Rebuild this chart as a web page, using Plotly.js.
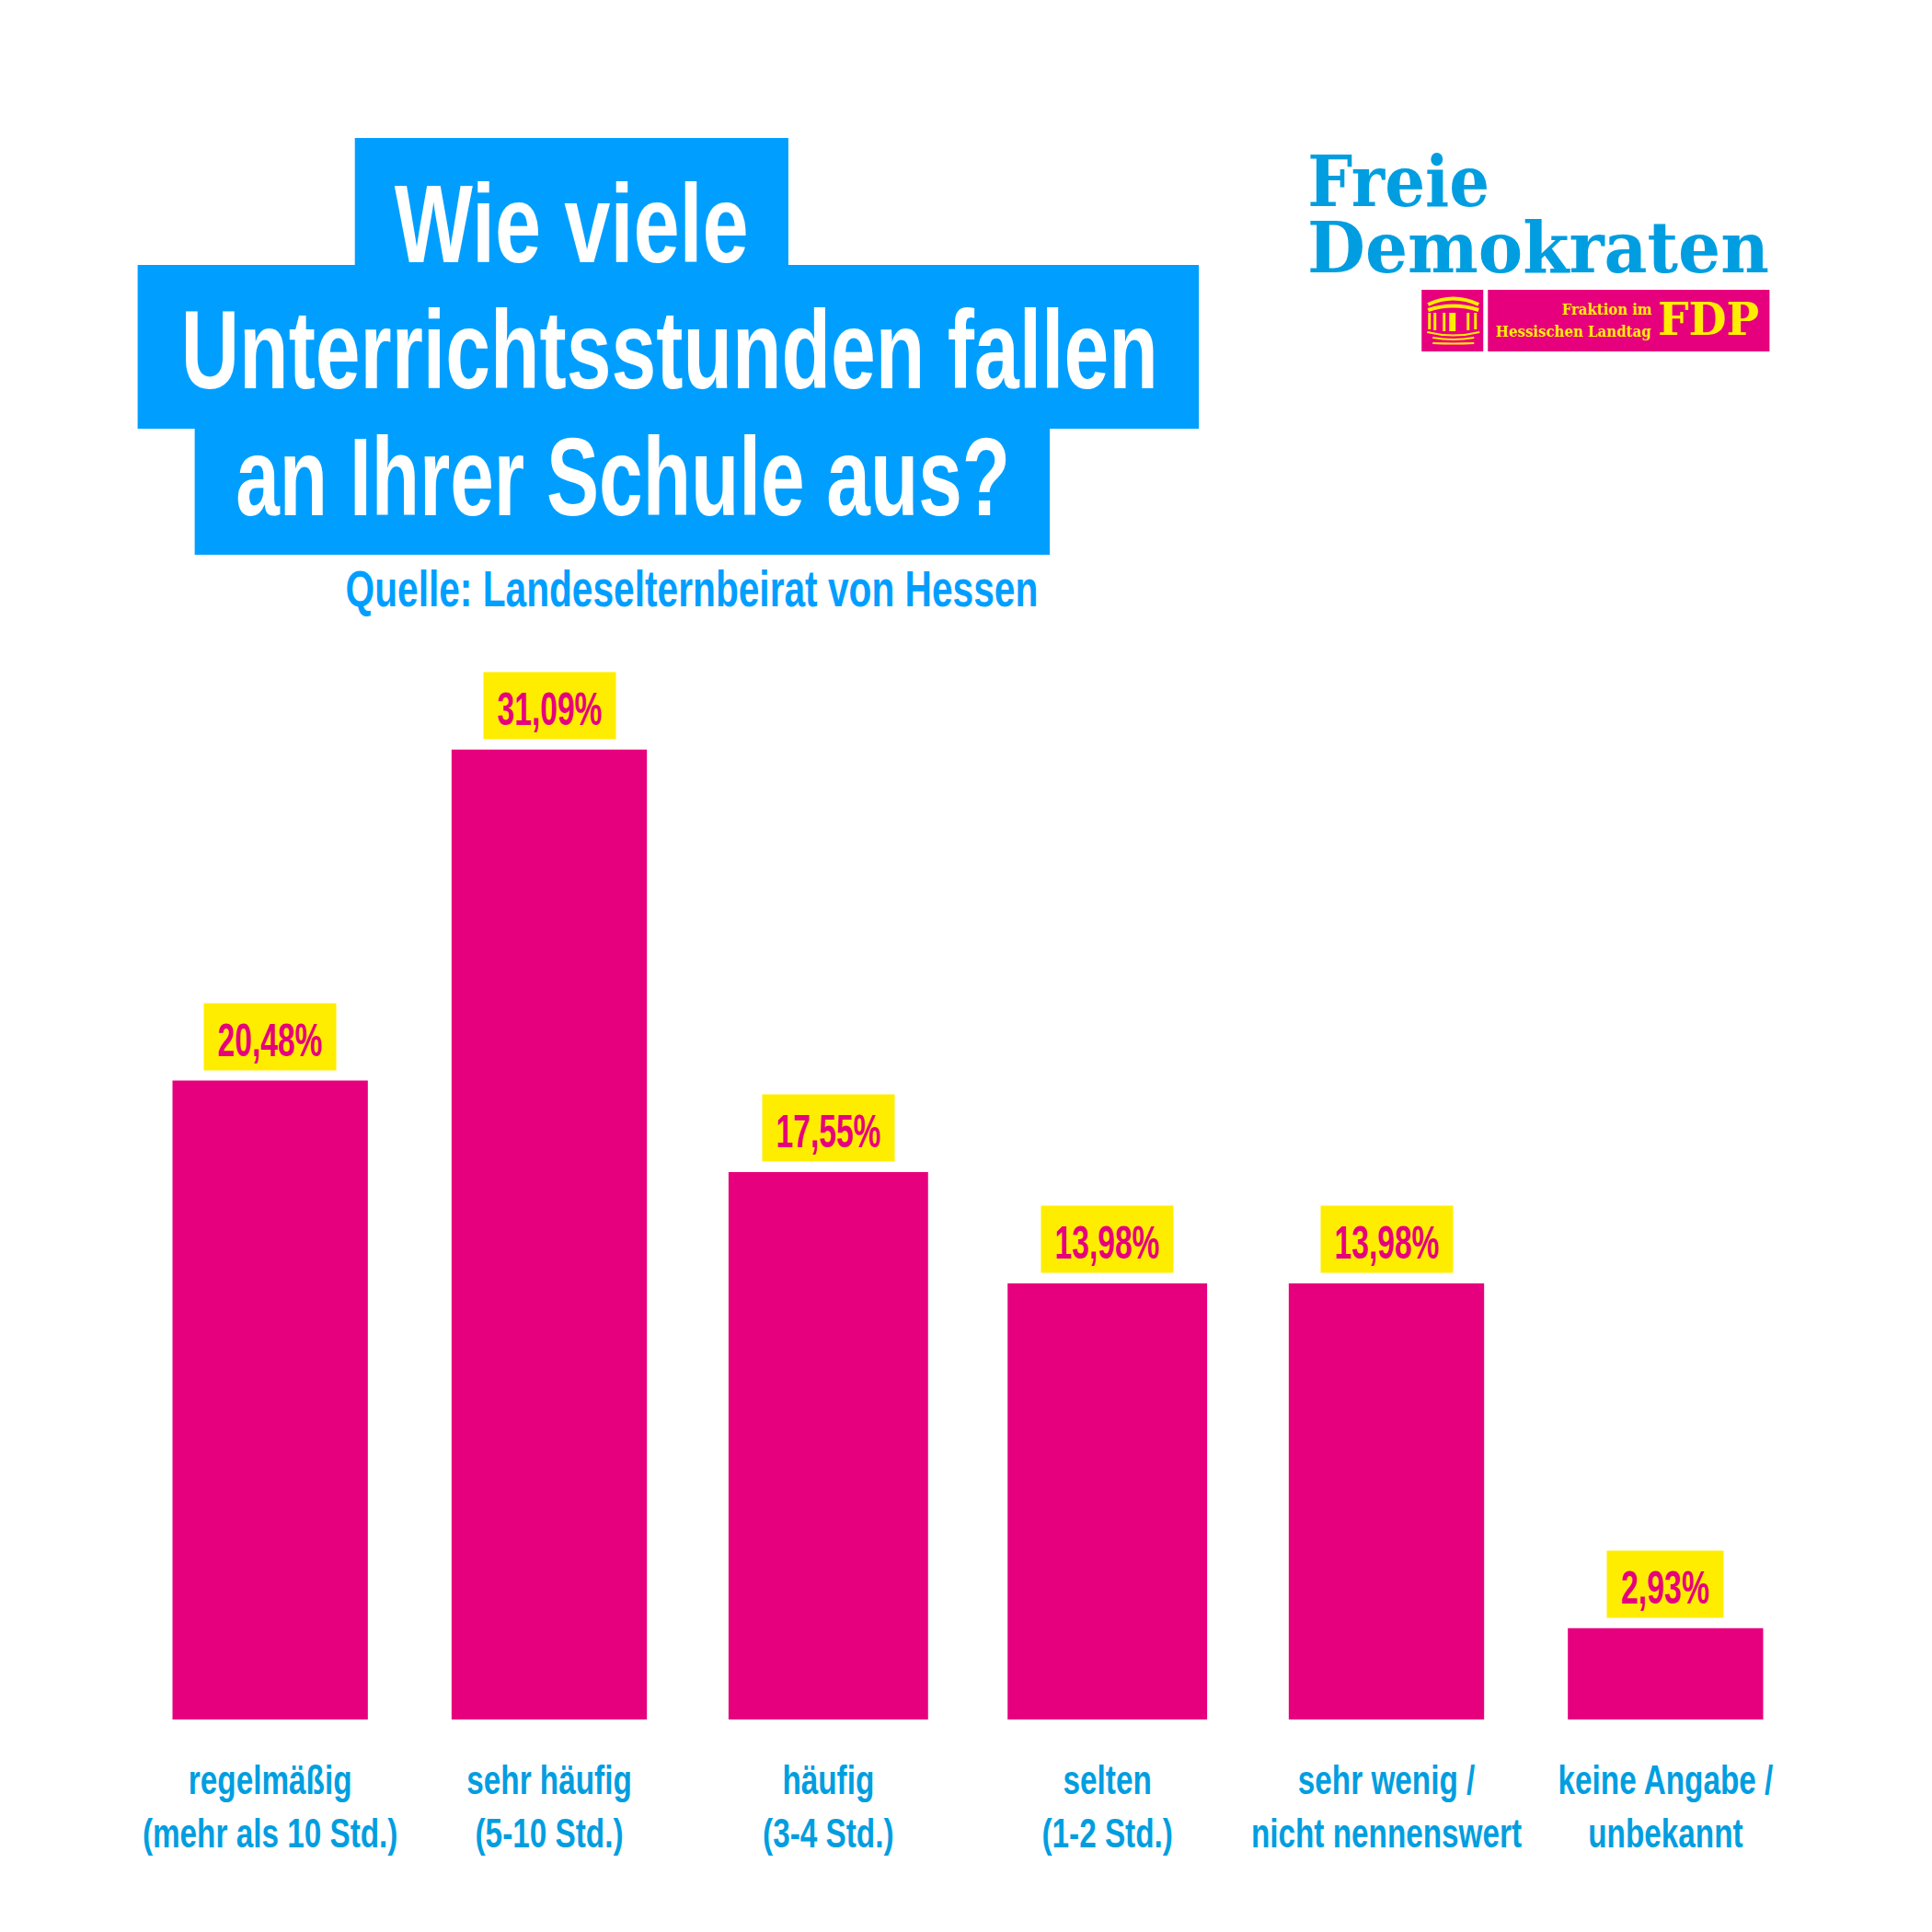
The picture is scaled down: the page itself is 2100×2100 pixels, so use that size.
<!DOCTYPE html>
<html>
<head>
<meta charset="utf-8">
<script src="https://cdn.plot.ly/plotly-3.0.1.min.js"></script>
<style>
	html, body { margin: 0; padding: 0; background: #fff; }
</style>
</head>
<body>
<div id="chart"></div>
<script>
const categories = ["regelmäßig", "sehr häufig", "häufig", "selten", "sehr wenig /", "keine Angabe /"];
const subLabels = ["(mehr als 10 Std.)", "(5-10 Std.)", "(3-4 Std.)", "(1-2 Std.)", "nicht nennenswert", "unbekannt"];
const values = [20.48, 31.09, 17.55, 13.98, 13.98, 2.93];
const barWidths = [0.70, 0.70, 0.715, 0.715, 0.70, 0.70];

const titleLines = ["Wie viele", "Unterrichtsstunden fallen", "an Ihrer Schule aus?"];
const source = "Quelle: Landeselternbeirat von Hessen";

const magenta = "#e6007e";
const yellow = "#ffed00";
const boxBlue = "#009fff";
const logoBlue = "#009ee0";
const sans = "'Liberation Sans', sans-serif";
const serif = "'DejaVu Serif', serif";

// plot area in page pixels
const plotLeft = 142.4, plotRight = 1961.6, plotTop = 750, plotBottom = 1869;
const px = (x) => (x - plotLeft) / (plotRight - plotLeft);
const py = (y) => (plotBottom - y) / (plotBottom - plotTop);

function rect(x0, y0, x1, y1, color){
	return {
		type: "rect", xref: "paper", yref: "paper", layer: "below",
		x0: px(x0), x1: px(x1), y0: py(y0), y1: py(y1),
		fillcolor: color, line: {width: 0}
	};
}

function arc(x0, x1, y, bend, thickness){
	const mid = (x0 + x1) / 2;
	return {
		type: "path", xref: "paper", yref: "paper", layer: "below",
		path: "M" + px(x0) + "," + py(y) + " Q" + px(mid) + "," + py(y + bend) + " " + px(x1) + "," + py(y),
		line: {color: yellow, width: thickness}
	};
}

// no condensed font is installed, so wide text is squeezed to these widths after drawing
const textWidths = [];

function note(text, x, y, size, color, family, width){
	textWidths.push(width);
	return {
		text: text, xref: "paper", yref: "paper", x: px(x), y: py(y),
		xanchor: "center", yanchor: "middle", showarrow: false,
		font: {size: size, color: color, family: family, weight: "bold"}
	};
}

function percent(v){
	return v.toFixed(2).replace(".", ",") + "%";
}

const data = [{
	type: "bar",
	x: categories.map((c, i) => i),
	y: values,
	width: barWidths,
	marker: {color: magenta, line: {width: 0}},
	hoverinfo: "skip"
}];

const shapes = [
	// title blocks
	rect(386, 150, 857, 290, boxBlue),
	rect(150, 288, 1303, 466, boxBlue),
	rect(212, 465, 1141, 603, boxBlue),
	// logo
	rect(1545, 315, 1612, 382, magenta),
	rect(1617, 315, 1923, 382, magenta),
	// building icon
	arc(1552, 1607, 331, -13, 4),
	arc(1552, 1607, 337, -9, 4),
	rect(1552, 340, 1555, 358, yellow),
	rect(1558, 340, 1561, 359, yellow),
	rect(1568, 340, 1571, 360, yellow),
	rect(1575, 340, 1582, 360, yellow),
	rect(1594, 340, 1597, 359, yellow),
	rect(1602, 340, 1605, 358, yellow),
	arc(1551, 1608, 361, 7, 2),
	arc(1557, 1602, 367, 4, 2),
	arc(1557, 1602, 373, 1, 2)
];

const annotations = [
	note(titleLines[0], 622, 243, 120, "#fff", sans, 385),
	note(titleLines[1], 728, 380, 120, "#fff", sans, 1062),
	note(titleLines[2], 677, 518, 120, "#fff", sans, 842),
	note(source, 752, 640, 55, boxBlue, sans, 753),
	note("Freie", 1520, 197, 76, logoBlue, serif, 198),
	note("Demokraten", 1672, 270, 76, logoBlue, serif, 502),
	note("Fraktion im", 1746, 336, 16, yellow, serif, 98),
	note("Hessischen Landtag", 1710, 360, 16, yellow, serif, 169),
	note("FDP", 1857, 347, 48, yellow, serif, 110)
];

values.forEach((v, i) => {
	textWidths.push(v < 10 ? 96 : 114);
	annotations.push({
		text: percent(v),
		x: i, y: v, xref: "x", yref: "y",
		yanchor: "bottom", yshift: 11,
		showarrow: false,
		width: v < 10 ? 124 : 141,
		height: 70,
		valign: "middle",
		bgcolor: yellow,
		font: {size: 50, color: magenta, family: sans, weight: "bold"}
	});
});

const layout = {
	width: 2100,
	height: 2100,
	margin: {l: plotLeft, r: 2100 - plotRight, t: plotTop, b: 2100 - plotBottom, pad: 0},
	paper_bgcolor: "#fff",
	plot_bgcolor: "#fff",
	showlegend: false,
	xaxis: {
		range: [-0.5, 5.5],
		tickmode: "array",
		tickvals: categories.map((c, i) => i),
		ticktext: categories.map((c, i) => c + "<br>" + subLabels[i]),
		ticks: "outside",
		ticklen: 26,
		tickcolor: "rgba(0,0,0,0)",
		tickfont: {size: 45, color: logoBlue, family: sans, weight: "bold"},
		showgrid: false,
		zeroline: false,
		showline: false,
		tickangle: 0
	},
	yaxis: {
		range: [0, 33],
		visible: false,
		showgrid: false,
		zeroline: false
	},
	shapes: shapes,
	annotations: annotations
};

function squeeze(el, factor, dy){
	const box = el.getBBox();
	const cx = box.x + box.width / 2;
	const before = el.getAttribute("transform") || "";
	el.removeAttribute("clip-path");
	el.style.clipPath = "";
	el.setAttribute("transform", before + " translate(" + cx + "," + dy + ") scale(" + factor + ",1) translate(" + (-cx) + ",0)");
}

Plotly.newPlot("chart", data, layout, {displayModeBar: false}).then((gd) => {
	gd.querySelectorAll(".annotation-text").forEach((el, i) => {
		squeeze(el, textWidths[i] / el.getBBox().width, i >= 9 ? 4 : 0);
	});
	gd.querySelectorAll(".xtick text").forEach((el) => {
		squeeze(el, 0.74, 0);
	});
});
</script>
</body>
</html>
